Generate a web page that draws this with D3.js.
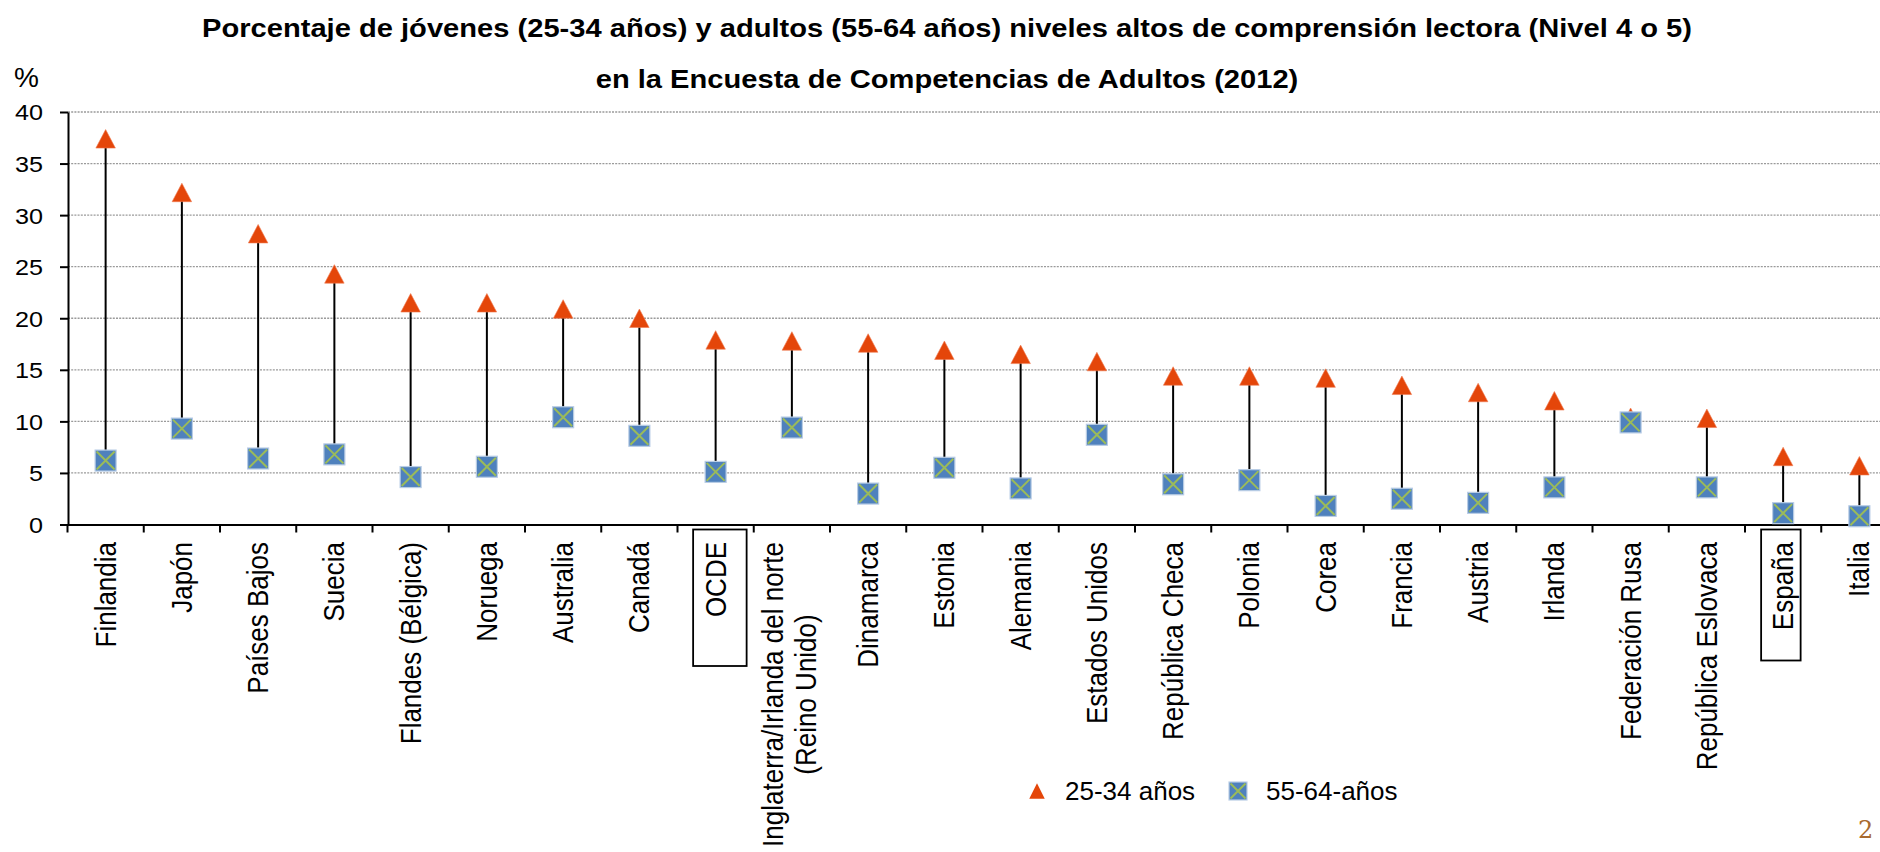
<!DOCTYPE html>
<html>
<head>
<meta charset="utf-8">
<script src="https://cdn.jsdelivr.net/npm/d3@7"></script>
<style>
  html, body { margin: 0; padding: 0; background: #fff; }
  svg { display: block; font-family: "Liberation Sans", Arial, sans-serif; }
</style>
</head>
<body>
<svg id="chart" width="1880" height="852"></svg>
<script>
// ---------- data ----------
const categories = [
  "Finlandia", "Japón", "Países Bajos", "Suecia", "Flandes (Bélgica)", "Noruega",
  "Australia", "Canadá", "OCDE", "Inglaterra/Irlanda del norte\n(Reino Unido)",
  "Dinamarca", "Estonia", "Alemania", "Estados Unidos", "República Checa", "Polonia",
  "Corea", "Francia", "Austria", "Irlanda", "Federación Rusa", "República Eslovaca",
  "España", "Italia"
];
const young = [37.4, 32.2, 28.2, 24.3, 21.5, 21.5, 20.9, 20.0, 17.9, 17.8, 17.6, 16.9,
               16.5, 15.8, 14.4, 14.4, 14.2, 13.5, 12.8, 12.0, 10.4, 10.3, 6.6, 5.7];
const old   = [6.2, 9.3, 6.4, 6.8, 4.6, 5.6, 10.4, 8.6, 5.1, 9.4, 3.0, 5.5,
               3.5, 8.7, 3.9, 4.3, 1.8, 2.5, 2.1, 3.6, 9.9, 3.6, 1.1, 0.8];
const yTicks = [0, 5, 10, 15, 20, 25, 30, 35, 40];
const seriesNames = ["25-34 años", "55-64-años"];
const boxed = ["OCDE", "España"];
const titleLines = [
  "Porcentaje de jóvenes (25-34 años) y adultos (55-64 años) niveles altos de comprensión lectora (Nivel 4 o 5)",
  "en la Encuesta de Competencias de Adultos (2012)"
];

// ---------- styles ----------
const C_TRI = "#E4460A";
const C_SQ = "#4F81BD";
const C_SQ_STROKE = "#B9CDE5";
const C_X = "#9BBB59";
const SX = 1.12; // horizontal stretch of the original picture's text

const svg = d3.select("#chart");
svg.append("rect").attr("width", 1880).attr("height", 852).attr("fill", "#fff");

const x = d3.scaleBand().domain(categories).range([67.5, 1897.5]).padding(0);
const y = d3.scaleLinear().domain([0, 40]).range([524.5, 112]);
const xc = c => x(c) + x.bandwidth() / 2;

// title
svg.append("g").selectAll("text").data(titleLines).join("text")
  .attr("transform", (d, i) => `translate(947,${i === 0 ? 36.5 : 88}) scale(${SX},1)`)
  .attr("text-anchor", "middle")
  .attr("font-size", 26).attr("font-weight", "bold").attr("fill", "#000")
  .text(d => d);

svg.append("text").attr("x", 14).attr("y", 86.5)
  .attr("font-size", 28).text("%");

// gridlines
svg.append("g").selectAll("line").data(yTicks.filter(t => t > 0)).join("line")
  .attr("x1", 68).attr("x2", 1897)
  .attr("y1", d => y(d)).attr("y2", d => y(d))
  .attr("stroke", "#9a9a9a").attr("stroke-width", 1.3)
  .attr("stroke-dasharray", "2,1.2");

// y axis
const yAxis = svg.append("g").attr("transform", "translate(68,0)")
  .call(d3.axisLeft(y).tickValues(yTicks).tickSize(8).tickSizeOuter(0).tickPadding(17));
yAxis.select(".domain").attr("stroke", "#000").attr("stroke-width", 2);
yAxis.selectAll(".tick line").attr("stroke", "#000").attr("stroke-width", 2);
yAxis.selectAll(".tick text").attr("font-size", 22.5).attr("fill", "#000")
  .attr("font-family", "'Liberation Sans', Arial, sans-serif")
  .attr("x", -25 / SX).attr("dy", "0.35em")
  .attr("transform", `scale(${SX},1)`);

// x axis
const xAxis = svg.append("g").attr("transform", "translate(0,524.5)")
  .call(d3.axisBottom(x).tickSize(0).tickSizeOuter(0).tickFormat(""));
xAxis.select(".domain").attr("stroke", "#000").attr("stroke-width", 2);
const bounds = categories.map(c => x(c)).concat([x(categories[categories.length - 1]) + x.bandwidth()]);
svg.append("g").selectAll("line").data(bounds).join("line")
  .attr("x1", d => d).attr("x2", d => d)
  .attr("y1", 524.5).attr("y2", 532.5)
  .attr("stroke", "#000").attr("stroke-width", 2);

// category labels
const labelTop = 542;
const lg = svg.append("g");
categories.forEach(c => {
  const lines = c.split("\n");
  const cx = xc(c);
  if (lines.length === 1) {
    lg.append("text")
      .attr("transform", `translate(${cx + 10},${labelTop}) scale(${SX},1) rotate(-90)`)
      .attr("text-anchor", "end").attr("font-size", 26).attr("fill", "#000")
      .text(c);
  } else {
    const offs = [-9, 24];
    const tmp = lines.map((l, i) => lg.append("text")
      .attr("font-size", 26).attr("fill", "#000").attr("text-anchor", "middle").text(l));
    const maxLen = d3.max(tmp, t => t.node().getComputedTextLength());
    tmp.forEach((t, i) => t.attr("transform",
      `translate(${cx + offs[i]},${labelTop + maxLen / 2}) scale(${SX},1) rotate(-90)`));
  }
});

// boxes around highlighted labels
const boxDims = { "OCDE": { l: -22.5, w: 53.5, h: 136.5 }, "España": { l: -22, w: 39.5, h: 131 } };
svg.append("g").selectAll("rect").data(boxed).join("rect")
  .attr("x", d => xc(d) + boxDims[d].l).attr("y", 529.5)
  .attr("width", d => boxDims[d].w).attr("height", d => boxDims[d].h)
  .attr("fill", "none").attr("stroke", "#000").attr("stroke-width", 1.8);

// stems
svg.append("g").selectAll("line").data(categories).join("line")
  .attr("x1", d => xc(d)).attr("x2", d => xc(d))
  .attr("y1", (d, i) => y(young[i])).attr("y2", (d, i) => y(old[i]))
  .attr("stroke", "#000").attr("stroke-width", 2);

// markers
const triPath = (w, h) => `M0,${-h / 2}L${w / 2},${h / 2}L${-w / 2},${h / 2}Z`;
function drawSquare(g, s) {
  g.append("rect").attr("x", -s / 2).attr("y", -s / 2).attr("width", s).attr("height", s)
    .attr("fill", C_SQ).attr("stroke", C_SQ_STROKE).attr("stroke-width", 1.2);
  const k = s / 2 - 1.5;
  g.append("path").attr("d", `M${-k},${-k}L${k},${k}M${k},${-k}L${-k},${k}`)
    .attr("stroke", C_X).attr("stroke-width", 2).attr("fill", "none");
}

svg.append("g").selectAll("path").data(categories).join("path")
  .attr("transform", (d, i) => `translate(${xc(d)},${y(young[i])})`)
  .attr("d", triPath(19.5, 18.5))
  .attr("fill", C_TRI).attr("stroke", "#F07A50").attr("stroke-width", 0.6);

svg.append("g").selectAll("g").data(categories).join("g")
  .attr("transform", (d, i) => `translate(${xc(d)},${y(old[i])})`)
  .each(function () { drawSquare(d3.select(this), 21); });

// legend
const leg = svg.append("g");
leg.append("path").attr("transform", "translate(1037,791)").attr("d", triPath(15.5, 15.5))
  .attr("fill", C_TRI);
leg.append("text").attr("x", 1065).attr("y", 799.5).attr("font-size", 26).text(seriesNames[0]);
const ls = leg.append("g").attr("transform", "translate(1238,791)");
drawSquare(ls, 18);
leg.append("text").attr("x", 1266).attr("y", 799.5).attr("font-size", 26).text(seriesNames[1]);

// page number
svg.append("text").attr("x", 1858).attr("y", 838).attr("font-size", 24)
  .attr("fill", "#A86A2F").attr("font-family", "'DejaVu Serif', serif").text("2");
</script>
</body>
</html>
